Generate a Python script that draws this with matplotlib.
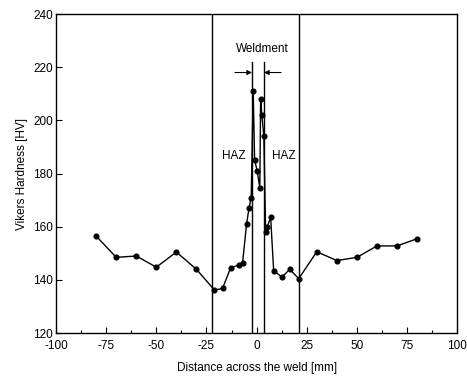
import numpy as np
import matplotlib
matplotlib.use("Agg")
import matplotlib.pyplot as plt
from matplotlib.ticker import MultipleLocator

# ── Data ─────────────────────────────────────────────────────────────────────
distance = [-80, -70, -60, -50, -40, -30, -21, -17, -13, -9, -7,
            -5, -3.8, -2.7, -1.7, -1, 0.3, 1.6, 2, 2.6, 3.6,
            4.5, 5.3, 7, 8.5, 12.7, 16.5, 21, 30, 40, 50, 60, 70, 80]
hardness = [156.5, 148.5, 149, 144.8, 150.5, 144, 136.2, 136.8, 144.5, 145.6, 146.5,
            161, 167, 171, 211, 185, 181, 174.6, 208, 202, 194,
            158, 160, 163.5, 143.4, 141.1, 144, 140.5, 150.6, 147.3, 148.5, 152.8, 152.8, 155.5]

haz_bounds = [-22, 21]        # outer HAZ limits (full-height lines)
weld_bounds = [-2.3, 3.7]     # weldment limits (shorter lines)
x_ticks = [-100, -75, -50, -25, 0, 25, 50, 75, 100]
y_ticks = [120, 140, 160, 180, 200, 220, 240]

plt.rcParams.update({
    "font.family": ["Liberation Sans", "DejaVu Sans"],
    "font.size": 8.5,
    "axes.unicode_minus": False,
})

fig = plt.figure(figsize=(4.67, 3.79), dpi=100)
ax = fig.add_axes([0.12, 0.121, 0.859, 0.842])

ax.plot(distance, hardness, color="black", linewidth=1.0,
        marker="o", markersize=3.4, zorder=3)

# ── Zone boundaries ──────────────────────────────────────────────────────────
for xb in haz_bounds:
    ax.axvline(xb, color="black", linewidth=1.0, zorder=2)
for xb in weld_bounds:
    ax.plot([xb, xb], [120, 222], color="black", linewidth=1.0, zorder=2)

# Weldment arrows
ax.annotate("", xy=(weld_bounds[0], 218), xytext=(weld_bounds[0] - 8.5, 218),
            arrowprops=dict(arrowstyle="-|>", color="black", lw=0.8,
                            mutation_scale=7, shrinkA=0, shrinkB=0))
ax.annotate("", xy=(weld_bounds[1], 218), xytext=(weld_bounds[1] + 8.5, 218),
            arrowprops=dict(arrowstyle="-|>", color="black", lw=0.8,
                            mutation_scale=7, shrinkA=0, shrinkB=0))
ax.text(3, 227, "Weldment", ha="center", va="center", fontsize=8.5)
ax.text(-11.5, 186.5, "HAZ", ha="center", va="center", fontsize=8.5)
ax.text(13.5, 186.5, "HAZ", ha="center", va="center", fontsize=8.5)

# ── Axes ─────────────────────────────────────────────────────────────────────
ax.set_xlim(-100, 100)
ax.set_ylim(120, 240)
ax.set_xticks(x_ticks)
ax.set_yticks(y_ticks)
ax.xaxis.set_minor_locator(MultipleLocator(12.5))
ax.tick_params(axis="y", direction="in", length=4, width=0.8, pad=2)
ax.tick_params(axis="x", direction="in", length=4, width=0.8, pad=5)
ax.tick_params(which="minor", direction="in", length=2, width=0.8)
for s in ax.spines.values():
    s.set_linewidth(1.0)

ax.set_xlabel("Distance across the weld [mm]", fontsize=8.5, labelpad=7)
ax.set_ylabel("Vikers Hardness [HV]", fontsize=8.5, labelpad=4)

plt.savefig("out.png", dpi=100)
plt.close()
